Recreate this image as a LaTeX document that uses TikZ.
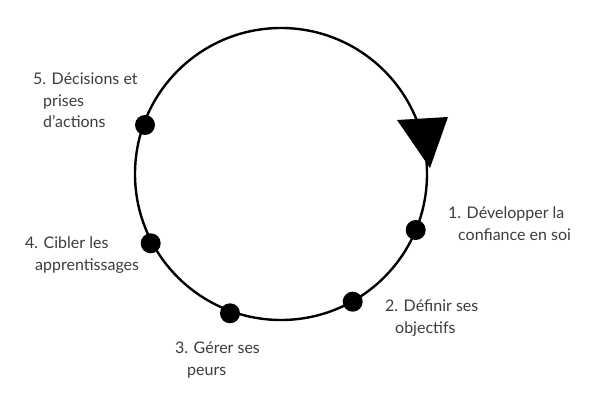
\documentclass[tikz,border=0pt]{standalone}
\usepackage{fontspec}
\setmainfont{Lato}
\usepackage{tikz}
\pgfdeclarelayer{bg}
\pgfsetlayers{bg,main}
\definecolor{textgray}{RGB}{60,60,60}
\tikzset{
    dot/.style={circle, inner sep=0mm, fill=black, minimum size=20pt},
    steplabel/.style={anchor=north west, inner sep=0pt, align=left, text=textgray,
        font={\fontsize{16}{21.5}\selectfont}}
}

\begin{document}
\begin{tikzpicture}[x=1pt, y=-1pt]
        \useasboundingbox (0,0) rectangle (604,411);
        \coordinate (c) at (281,174);
        \node (s1) [dot] at (415.7,230) {};
        \node (s2) [dot] at (352.7,301.7) {};
        \node (s3) [dot] at (230,313.3) {};
        \node (s4) [dot] at (150.7,243.3) {};
        \node (s5) [dot] at (145,125) {};
        \node (l1) [steplabel] at (448,207) {1. Développer la\\\hspace*{10pt}confiance en soi};
        \node (l2) [steplabel] at (385,300) {2. Définir ses\\\hspace*{10pt}objectifs};
        \node (l3) [steplabel] at (175,342) {3. Gérer ses\\\hspace*{12pt}peurs};
        \node (l4) [steplabel] at (25,237) {4. Cibler les\\\hspace*{10pt}apprentissages};
        \node (l5) [steplabel] at (33,73) {5. Décisions et\\\hspace*{10pt}prises\\\hspace*{10pt}d’actions};
        \begin{pgfonlayer}{bg}
                \draw [line width=2.4pt] (c) circle [radius=146];
                \fill (397,120) -- (448,117) -- (430,168) -- cycle;
        \end{pgfonlayer}
\end{tikzpicture}
\end{document}
